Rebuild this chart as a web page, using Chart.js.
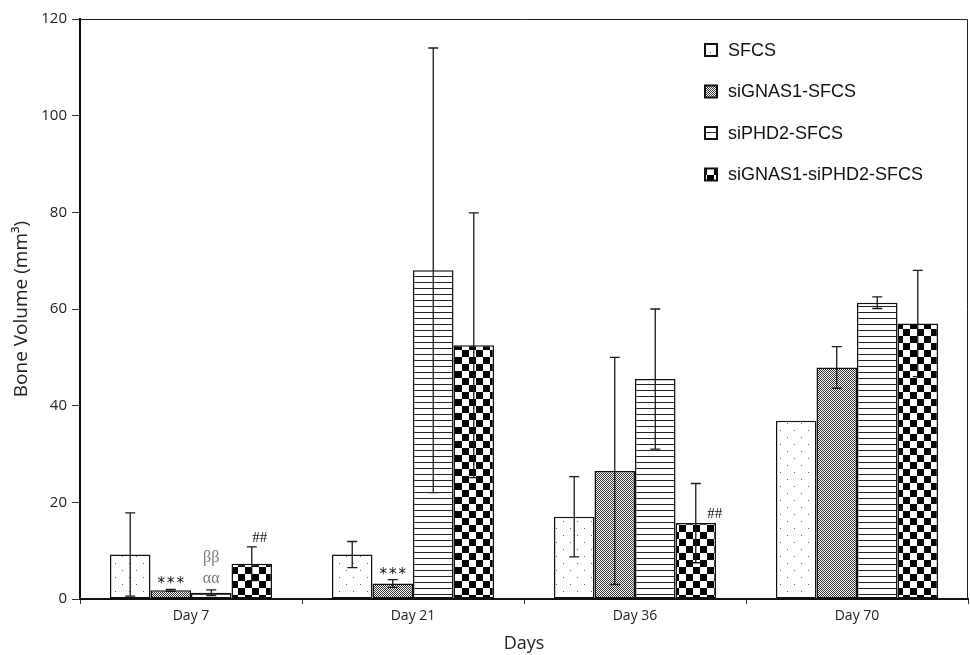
<!DOCTYPE html>
<html>
<head>
<meta charset="utf-8">
<script src="https://cdn.jsdelivr.net/npm/chart.js@4.4.0/dist/chart.umd.min.js"></script>
<style>
  body { margin: 0; background: #fff; }
  #chart { display: block; }
</style>
</head>
<body>
<canvas id="chart" width="970" height="655"></canvas>
<script>
// Data
const days = ['Day 7', 'Day 21', 'Day 36', 'Day 70'];
const seriesNames = ['SFCS', 'siGNAS1-SFCS', 'siPHD2-SFCS', 'siGNAS1-siPHD2-SFCS'];

const sfcs = [9.2, 9.2, 17.0, 36.9];
const sfcsErr = [8.6, 2.7, 8.3, 0];
const siGnas = [1.8, 3.2, 26.5, 47.9];
const siGnasErr = [0.2, 0.8, 23.5, 4.3];
const siPhd = [1.3, 68.0, 45.5, 61.3];
const siPhdErr = [0.6, 46.0, 14.5, 1.2];
const combo = [7.3, 52.5, 15.7, 57.0];
const comboErr = [3.5, 27.4, 8.2, 11.0];

// significance marks (lines listed top to bottom)
const sfcsMarks = [[], [], [], []];
const siGnasMarks = [['***'], ['***'], [], []];
const siPhdMarks = [['ββ', 'αα'], [], [], []];
const comboMarks = [['##'], [], ['##'], []];

const yTicks = [0, 20, 40, 60, 80, 100, 120];

// fill patterns
function makePattern(size, draw) {
    const c = document.createElement('canvas');
    c.width = size; c.height = size;
    const g = c.getContext('2d');
    g.fillStyle = '#fff';
    g.fillRect(0, 0, size, size);
    draw(g);
    return document.getElementById('chart').getContext('2d').createPattern(c, 'repeat');
}

const dotFill = makePattern(14, function(g) {
    g.fillStyle = '#666';
    g.fillRect(3, 3, 1, 1);
    g.fillRect(10, 10, 1, 1);
});
const fineFill = makePattern(2, function(g) {
    g.fillStyle = '#333';
    g.fillRect(0, 0, 1, 1);
    g.fillRect(1, 1, 1, 1);
});
const lineFill = makePattern(6, function(g) {
    g.fillStyle = '#222';
    g.fillRect(0, 0, 6, 1);
});
const checkFill = makePattern(14, function(g) {
    g.fillStyle = '#000';
    g.fillRect(0, 0, 7, 7);
    g.fillRect(7, 7, 7, 7);
});

const fills = [dotFill, fineFill, lineFill, checkFill];
const errors = [sfcsErr, siGnasErr, siPhdErr, comboErr];
const marks = [sfcsMarks, siGnasMarks, siPhdMarks, comboMarks];

// error bars, marks, frame and legend
const extrasPlugin = {
    id: 'extras',
    afterDatasetsDraw(chart) {
        const ctx = chart.ctx;
        const y = chart.scales.y;
        ctx.save();
        ctx.strokeStyle = '#1a1a1a';
        ctx.lineWidth = 1.3;
        chart.data.datasets.forEach(function(ds, di) {
            const meta = chart.getDatasetMeta(di);
            meta.data.forEach(function(bar, i) {
                const err = errors[di][i];
                if (!err) return;
                const v = ds.data[i];
                const yTop = y.getPixelForValue(v + err);
                const yBot = y.getPixelForValue(Math.max(0, v - err));
                ctx.beginPath();
                ctx.moveTo(bar.x, yTop);
                ctx.lineTo(bar.x, yBot);
                ctx.moveTo(bar.x - 5, yTop);
                ctx.lineTo(bar.x + 5, yTop);
                ctx.moveTo(bar.x - 5, yBot);
                ctx.lineTo(bar.x + 5, yBot);
                ctx.stroke();
            });
        });

        // significance marks
        chart.data.datasets.forEach(function(ds, di) {
            const meta = chart.getDatasetMeta(di);
            meta.data.forEach(function(bar, i) {
                const lines = marks[di][i];
                if (!lines.length) return;
                const v = ds.data[i];
                const errTop = y.getPixelForValue(v + errors[di][i]);
                const barTop = y.getPixelForValue(v);
                ctx.textAlign = 'center';
                ctx.textBaseline = 'alphabetic';
                const text = lines[0];
                if (text === '***') {
                    ctx.font = '15px "DejaVu Sans"';
                    ctx.fillStyle = '#111';
                    ctx.letterSpacing = '2px';
                    ctx.fillText(text, bar.x + 1, errTop - 1);
                    ctx.letterSpacing = '0px';
                } else if (text === '##') {
                    ctx.font = '15px "Liberation Serif"';
                    ctx.fillStyle = '#111';
                    if (i === 2) {
                        ctx.fillText(text, bar.x + 19, barTop - 5);
                    } else {
                        ctx.fillText(text, bar.x + 8, errTop - 5);
                    }
                } else {
                    ctx.font = '16px "Liberation Serif"';
                    ctx.fillStyle = '#7a7a7a';
                    for (let k = lines.length - 1; k >= 0; k--) {
                        ctx.fillText(lines[k], bar.x, errTop - 7 - (lines.length - 1 - k) * 21);
                    }
                }
            });
        });
        ctx.restore();
    },
    afterDraw(chart) {
        const ctx = chart.ctx;
        const a = chart.chartArea;
        ctx.save();
        ctx.strokeStyle = '#222';
        ctx.lineWidth = 1;
        ctx.beginPath();
        ctx.moveTo(a.left, a.top + 0.5);
        ctx.lineTo(a.right - 0.5, a.top + 0.5);
        ctx.lineTo(a.right - 0.5, a.bottom);
        ctx.stroke();

        // legend
        ctx.font = '18px "Liberation Sans"';
        ctx.textBaseline = 'middle';
        ctx.textAlign = 'left';
        seriesNames.forEach(function(name, k) {
            const cy = 50 + k * 41.5;
            ctx.fillStyle = fills[k];
            ctx.fillRect(705, cy - 6, 12, 12);
            ctx.strokeStyle = '#111';
            ctx.lineWidth = 2;
            ctx.strokeRect(705, cy - 6, 12, 12);
            ctx.fillStyle = '#111';
            ctx.fillText(name, 728, cy + 1);
        });
        ctx.restore();
    }
};

const seriesValues = [sfcs, siGnas, siPhd, combo];

new Chart(document.getElementById('chart'), {
    type: 'bar',
    data: {
        labels: days,
        datasets: seriesNames.map(function(name, k) {
            return {
                label: name,
                data: seriesValues[k],
                backgroundColor: fills[k],
                borderColor: '#111',
                borderWidth: 1.5,
                borderSkipped: false,
                categoryPercentage: 0.73,
                barPercentage: 1.0
            };
        })
    },
    options: {
        responsive: false,
        devicePixelRatio: 1,
        animation: false,
        layout: { padding: { top: 19, right: 2, left: 0, bottom: 0 } },
        plugins: {
            legend: { display: false },
            tooltip: { enabled: false }
        },
        scales: {
            x: {
                afterFit: function(scale) { scale.height = 56; },
                grid: {
                    offset: true,
                    drawOnChartArea: false,
                    tickLength: 5,
                    color: '#333'
                },
                border: { display: true, color: '#111', width: 2 },
                ticks: {
                    color: '#222',
                    padding: 4,
                    font: { family: '"Open Sans"', size: 14 }
                },
                title: {
                    display: true,
                    text: 'Days',
                    color: '#222',
                    padding: { top: 0, bottom: 0 },
                    font: { family: '"Open Sans"', size: 18 }
                }
            },
            y: {
                min: 0,
                max: 120,
                afterFit: function(scale) { scale.width = 80; },
                afterBuildTicks: function(scale) {
                    scale.ticks = yTicks.map(function(v) { return { value: v }; });
                },
                grid: {
                    drawOnChartArea: false,
                    tickLength: 8,
                    color: '#333'
                },
                border: { display: true, color: '#111', width: 2 },
                ticks: {
                    color: '#222',
                    padding: 5,
                    font: { family: '"Open Sans"', size: 15 }
                },
                title: {
                    display: true,
                    text: 'Bone Volume (mm³)',
                    color: '#222',
                    padding: { top: 10, bottom: 0 },
                    font: { family: '"Open Sans"', size: 19 }
                }
            }
        }
    },
    plugins: [extrasPlugin]
});
</script>
</body>
</html>
